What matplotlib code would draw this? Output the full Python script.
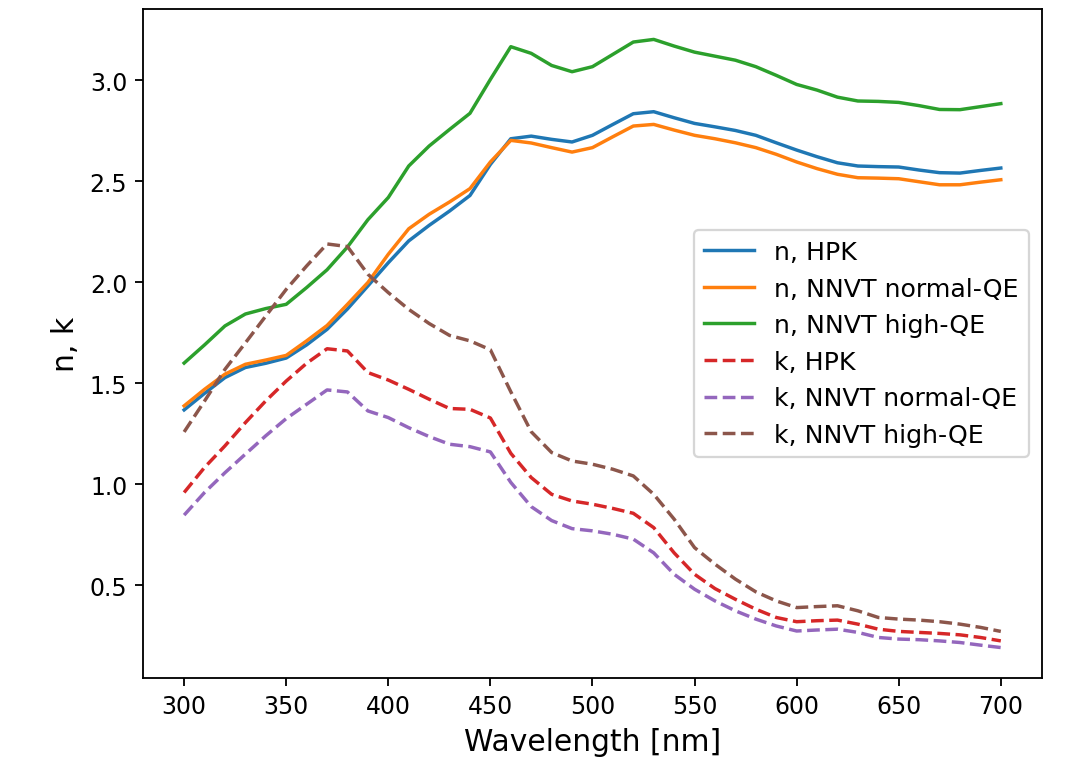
import numpy as np
import matplotlib
matplotlib.use("Agg")
import matplotlib.pyplot as plt

wavelength = np.arange(300, 701, 10)

# refractive index n
n_hpk = [1.368, 1.45, 1.528, 1.578, 1.599, 1.625, 1.69, 1.767, 1.868, 1.982,
         2.097, 2.205, 2.282, 2.353, 2.43, 2.584, 2.711, 2.724, 2.708, 2.695,
         2.728, 2.782, 2.835, 2.845, 2.815, 2.787, 2.77, 2.752, 2.728, 2.691,
         2.655, 2.622, 2.592, 2.576, 2.573, 2.571, 2.556, 2.543, 2.541, 2.554,
         2.566]
n_nnvt_normal = [1.388, 1.47, 1.545, 1.594, 1.615, 1.638, 1.71, 1.786, 1.891, 1.999,
                 2.139, 2.265, 2.337, 2.398, 2.464, 2.596, 2.703, 2.69, 2.667, 2.645,
                 2.667, 2.721, 2.774, 2.782, 2.754, 2.728, 2.711, 2.691, 2.667, 2.634,
                 2.596, 2.563, 2.535, 2.518, 2.516, 2.513, 2.498, 2.483, 2.483, 2.496,
                 2.508]
n_nnvt_high = [1.60, 1.69, 1.784, 1.843, 1.87, 1.891, 1.974, 2.062, 2.175, 2.31,
               2.42, 2.576, 2.675, 2.757, 2.837, 3.005, 3.167, 3.134, 3.074, 3.043,
               3.068, 3.129, 3.19, 3.203, 3.17, 3.14, 3.12, 3.10, 3.068, 3.025,
               2.98, 2.952, 2.917, 2.898, 2.896, 2.891, 2.875, 2.856, 2.855, 2.87,
               2.885]

# extinction coefficient k
k_hpk = [0.959, 1.083, 1.19, 1.305, 1.413, 1.511, 1.599, 1.671, 1.66, 1.553,
         1.516, 1.47, 1.421, 1.375, 1.371, 1.328, 1.153, 1.033, 0.95, 0.917,
         0.901, 0.88, 0.856, 0.785, 0.66, 0.554, 0.483, 0.43, 0.381, 0.34,
         0.319, 0.324, 0.327, 0.307, 0.282, 0.271, 0.266, 0.261, 0.254, 0.241,
         0.224]
k_nnvt_normal = [0.847, 0.959, 1.057, 1.149, 1.24, 1.325, 1.396, 1.467, 1.457, 1.363,
                 1.33, 1.28, 1.236, 1.198, 1.186, 1.16, 1.009, 0.889, 0.82, 0.78,
                 0.769, 0.752, 0.728, 0.66, 0.554, 0.48, 0.422, 0.373, 0.332, 0.298,
                 0.273, 0.278, 0.282, 0.266, 0.241, 0.233, 0.23, 0.224, 0.216, 0.203,
                 0.191]
k_nnvt_high = [1.259, 1.412, 1.569, 1.70, 1.833, 1.965, 2.081, 2.19, 2.177, 2.04,
               1.949, 1.866, 1.796, 1.737, 1.71, 1.666, 1.458, 1.26, 1.157, 1.115,
               1.099, 1.074, 1.041, 0.95, 0.827, 0.686, 0.604, 0.53, 0.467, 0.422,
               0.389, 0.394, 0.398, 0.373, 0.34, 0.332, 0.327, 0.319, 0.307, 0.291,
               0.271]

fig = plt.figure(figsize=(1088 / 165, 764 / 165), dpi=165)
ax = fig.add_axes([0.1317, 0.1113, 0.9574 - 0.1317, 0.9869 - 0.1113])

ax.plot(wavelength, n_hpk, '-', label='n, HPK')
ax.plot(wavelength, n_nnvt_normal, '-', label='n, NNVT normal-QE')
ax.plot(wavelength, n_nnvt_high, '-', label='n, NNVT high-QE')
ax.plot(wavelength, k_hpk, '--', label='k, HPK')
ax.plot(wavelength, k_nnvt_normal, '--', label='k, NNVT normal-QE')
ax.plot(wavelength, k_nnvt_high, '--', label='k, NNVT high-QE')

ax.tick_params(labelsize=10.3)
ax.set_xlabel('Wavelength [nm]', fontsize=13)
ax.set_ylabel('n, k', fontsize=13)
ax.legend(loc='center right', fontsize=11)

fig.savefig("out.png", dpi=165)
